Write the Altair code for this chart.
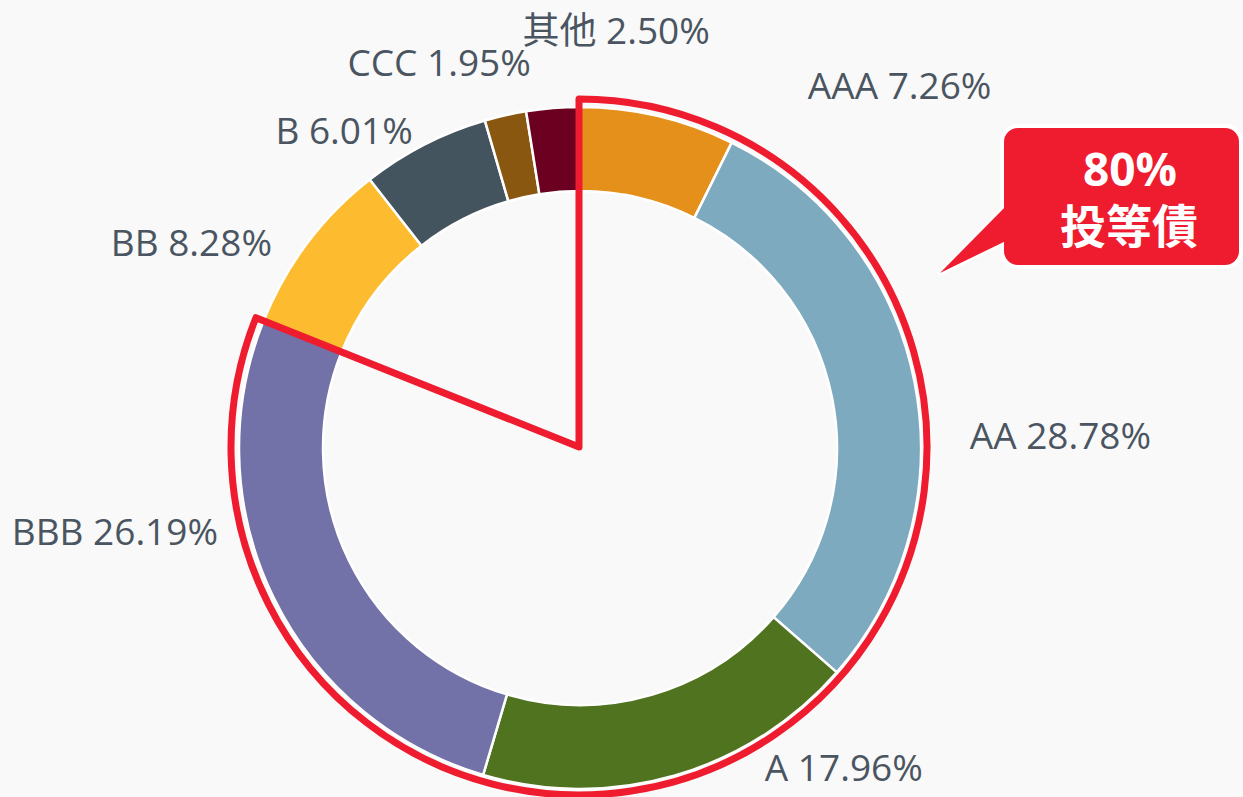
import math
import altair as alt
import pandas as pd

# ---- data ----
categories = ["AAA", "AA", "A", "BBB", "BB", "B", "CCC", "其他"]
values = [7.26, 28.78, 17.96, 26.19, 8.28, 6.01, 1.95, 2.50]
colors = ["#E6901C", "#7DAABF", "#50731F", "#7372A8", "#FDBB30", "#44545F", "#8A5711", "#6C0021"]
ig_categories = ["AAA", "AA", "A", "BBB"]
callout_lines = ["80%", "投等債"]

# ---- layout (not data) ----
W, H = 1243, 797
CX, CY = 580, 448
R_IN, R_OUT, R_RED = 257, 341, 346
R_LABEL = 380
# per-label nudges from the natural polar anchor (layout only)
label_dx = [141, 17, 79, -20, -4, 6, 34, 160]
label_dy = [10, 64, -43, -80, 25, 23, -12, -36]
RED = "#EE1C2E"
TEXT = "#4A5561"
BG = "#F9F9F9"

df = pd.DataFrame({"cat": categories, "val": values, "idx": list(range(len(categories)))})

# outline data: investment grade vs rest
ig_sum = sum(v for c, v in zip(categories, values) if c in ig_categories)
rest_sum = sum(v for c, v in zip(categories, values) if c not in ig_categories)
df_ig = pd.DataFrame({"grp": ["投等債", "非投等債"], "val": [ig_sum, rest_sum], "idx": [0, 1]})

# label positions from slice mid-angles
total = sum(values)
rows = []
cum = 0.0
for i, (c, v) in enumerate(zip(categories, values)):
    mid = (cum + v / 2) / total * 2 * math.pi
    cum += v
    x = CX + R_LABEL * math.sin(mid) + label_dx[i]
    y = CY - R_LABEL * math.cos(mid) + label_dy[i]
    rows.append({"label": f"{c} {v:.2f}%", "x": x, "y": y, "right": math.sin(mid) >= 0 and i < 3})
lab = pd.DataFrame(rows)
lab_r = lab[lab["right"]]
lab_l = lab[~lab["right"]]

donut = alt.Chart(df).mark_arc(innerRadius=R_IN, outerRadius=R_OUT, stroke="white", strokeWidth=2.5).encode(
    theta=alt.Theta("val:Q", stack=True),
    order=alt.Order("idx:Q"),
    color=alt.Color("cat:N", scale=alt.Scale(domain=categories, range=colors), legend=None),
    x=alt.value(CX),
    y=alt.value(CY),
)

outline = alt.Chart(df_ig).mark_arc(
    innerRadius=0, outerRadius=R_RED + 2, fillOpacity=0, stroke=RED, strokeWidth=7, strokeJoin="round"
).encode(
    theta=alt.Theta("val:Q", stack=True),
    order=alt.Order("idx:Q"),
    strokeOpacity=alt.StrokeOpacity("grp:N", scale=alt.Scale(domain=["投等債", "非投等債"], range=[1, 0]), legend=None),
    x=alt.value(CX - 1),
    y=alt.value(CY - 1),
)

font = "Open Sans, Noto Sans CJK TC, sans-serif"
FS = 37
text_r = alt.Chart(lab_r).mark_text(align="left", baseline="middle", fontSize=FS, font=font, color=TEXT).encode(
    x=alt.X("x:Q", scale=None, axis=None),
    y=alt.Y("y:Q", scale=None, axis=None),
    text="label:N",
)
text_l = alt.Chart(lab_l).mark_text(align="right", baseline="middle", fontSize=FS, font=font, color=TEXT).encode(
    x=alt.X("x:Q", scale=None, axis=None),
    y=alt.Y("y:Q", scale=None, axis=None),
    text="label:N",
)

# callout bubble
tri = pd.DataFrame({"x": [940, 1012], "y": [273, 200], "y2": [273, 238]})
tri_stroke = alt.Chart(tri).mark_area(color=RED, stroke="white", strokeWidth=5, strokeJoin="round").encode(
    x=alt.X("x:Q", scale=None, axis=None),
    y=alt.Y("y:Q", scale=None, axis=None),
    y2="y2:Q",
)
tri_fill = alt.Chart(tri).mark_area(color=RED).encode(
    x=alt.X("x:Q", scale=None, axis=None),
    y=alt.Y("y:Q", scale=None, axis=None),
    y2="y2:Q",
)
box = alt.Chart(pd.DataFrame({"a": [0]})).mark_rect(
    color=RED, stroke="white", strokeWidth=4, cornerRadius=16
).encode(
    x=alt.value(1002), x2=alt.value(1241), y=alt.value(126), y2=alt.value(267)
)
call_df = pd.DataFrame({"t": callout_lines, "y": [172, 229]})
call1 = alt.Chart(call_df.iloc[[0]]).mark_text(
    align="center", baseline="middle", fontSize=46, fontWeight="bold", font=font, color="white"
).encode(x=alt.value(1130), y=alt.Y("y:Q", scale=None, axis=None), text="t:N")
call2 = alt.Chart(call_df.iloc[[1]]).mark_text(
    align="center", baseline="middle", fontSize=46, fontWeight="bold", font=font, color="white"
).encode(x=alt.value(1129), y=alt.Y("y:Q", scale=None, axis=None), text="t:N")

chart = alt.layer(donut, outline, text_r, text_l, tri_stroke, box, tri_fill, call1, call2).properties(
    width=W, height=H, background=BG, padding=0, autosize=alt.AutoSizeParams(type="none")
).configure_view(stroke=None)

chart.save("out.html", embed_options={"renderer": "svg", "actions": False})
